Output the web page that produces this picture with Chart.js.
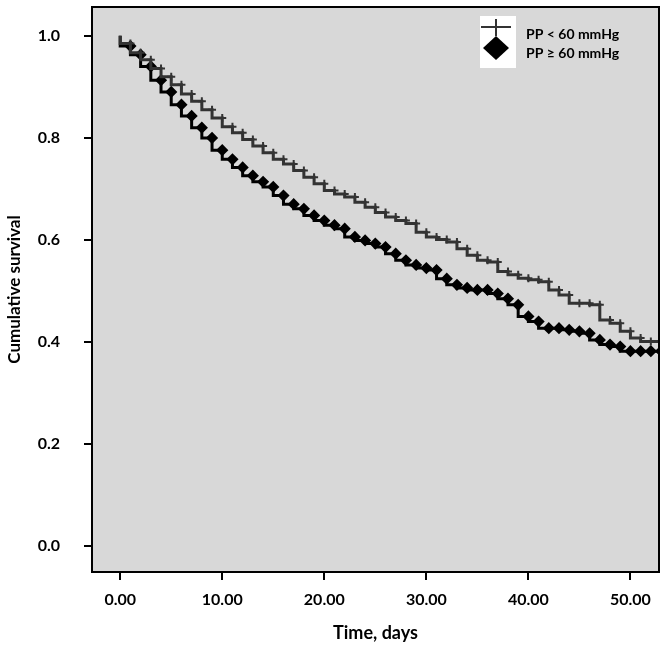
<!DOCTYPE html>
<html>
<head>
<meta charset="utf-8">
<script src="https://cdn.jsdelivr.net/npm/chart.js@4.4.1/dist/chart.umd.min.js"></script>
<style>
  body { margin: 0; background: #fff; }
  #wrap { width: 666px; height: 648px; }
</style>
</head>
<body>
<div id="wrap"><canvas id="kmChart" width="666" height="648"></canvas></div>
<script>
// Kaplan-Meier curves, values (one step per day)
const days = [0, 1, 2, 3, 4, 5, 6, 7, 8, 9, 10, 11, 12, 13, 14, 15, 16, 17, 18, 19, 20,
  21, 22, 23, 24, 25, 26, 27, 28, 29, 30, 31, 32, 33, 34, 35, 36, 37, 38, 39, 40,
  41, 42, 43, 44, 45, 46, 47, 48, 49, 50, 51, 52, 53];

const survUnder60 = [1.000, 0.985, 0.967, 0.953, 0.936, 0.920, 0.904, 0.886, 0.872, 0.855, 0.839,
  0.822, 0.810, 0.797, 0.784, 0.771, 0.758, 0.749, 0.736, 0.723, 0.710,
  0.697, 0.690, 0.684, 0.674, 0.664, 0.654, 0.645, 0.638, 0.632, 0.615,
  0.606, 0.601, 0.596, 0.583, 0.570, 0.560, 0.557, 0.538, 0.532, 0.525,
  0.522, 0.518, 0.502, 0.492, 0.476, 0.476, 0.473, 0.443, 0.437, 0.421,
  0.408, 0.401, 0.401];

const survOver60 = [1.000, 0.980, 0.963, 0.940, 0.913, 0.890, 0.865, 0.843, 0.820, 0.800, 0.776,
  0.758, 0.742, 0.726, 0.714, 0.704, 0.687, 0.670, 0.661, 0.648, 0.638,
  0.629, 0.622, 0.606, 0.599, 0.593, 0.586, 0.573, 0.560, 0.551, 0.545,
  0.541, 0.524, 0.512, 0.506, 0.502, 0.502, 0.495, 0.485, 0.473, 0.450,
  0.440, 0.427, 0.427, 0.424, 0.421, 0.417, 0.404, 0.395, 0.391, 0.382,
  0.382, 0.382, 0.382];

const seriesLabels = ['PP < 60 mmHg', 'PP \u2265 60 mmHg'];
const xTicks = [0, 10, 20, 30, 40, 50];
const yTicks = [0.0, 0.2, 0.4, 0.6, 0.8, 1.0];

const FONT = 'Lato, "Open Sans", sans-serif';

// gray plot background + box border round the chart area
const plotFrame = {
  id: 'plotFrame',
  beforeDatasetsDraw(chart) {
    const a = chart.chartArea, ctx = chart.ctx;
    ctx.save();
    ctx.fillStyle = '#d8d8d8';
    ctx.fillRect(a.left, a.top, a.right - a.left, a.bottom - a.top);
    ctx.restore();
  },
  afterDatasetsDraw(chart) {
    const a = chart.chartArea, ctx = chart.ctx;
    ctx.save();
    ctx.strokeStyle = '#000';
    ctx.lineWidth = 2;
    ctx.strokeRect(a.left, a.top, a.right - a.left, a.bottom - a.top);
    ctx.restore();
  }
};

// small legend box in the upper right corner of the plot
const cornerLegend = {
  id: 'cornerLegend',
  afterDraw(chart) {
    const a = chart.chartArea, ctx = chart.ctx;
    const ds = chart.data.datasets;
    const bx = a.right - 179, by = a.top + 9;
    ctx.save();
    ctx.fillStyle = '#fff';
    ctx.fillRect(bx, by, 36, 52);
    const cx = bx + 16;
    // cross
    ctx.strokeStyle = ds[0].borderColor;
    ctx.lineWidth = 2;
    ctx.beginPath();
    ctx.moveTo(bx + 1, by + 11); ctx.lineTo(bx + 31, by + 11);
    ctx.moveTo(cx, by + 3); ctx.lineTo(cx, by + 20);
    ctx.stroke();
    // diamond
    ctx.fillStyle = ds[1].borderColor;
    ctx.beginPath();
    ctx.moveTo(cx, by + 20);
    ctx.lineTo(cx + 13, by + 32);
    ctx.lineTo(cx, by + 44);
    ctx.lineTo(cx - 13, by + 32);
    ctx.closePath();
    ctx.fill();
    // labels
    ctx.fillStyle = '#000';
    ctx.font = 'bold 14px ' + FONT;
    ctx.textBaseline = 'middle';
    ctx.textAlign = 'left';
    ctx.fillText(ds[0].label, bx + 46, by + 18);
    ctx.fillText(ds[1].label, bx + 46, by + 37);
    ctx.restore();
  }
};

const ctx = document.getElementById('kmChart').getContext('2d');
const kmChart = new Chart(ctx, {
  type: 'line',
  data: {
    datasets: [{
      label: seriesLabels[0],
      data: days.map((d, i) => ({ x: d, y: survUnder60[i] })),
      stepped: 'after',
      borderColor: '#333333',
      borderWidth: 3,
      fill: false,
      pointStyle: 'cross',
      pointRadius: c => c.dataIndex === 0 ? 0 : 4,
      pointBorderWidth: 2,
      pointBorderColor: '#333333',
      clip: 0
    }, {
      label: seriesLabels[1],
      data: days.map((d, i) => ({ x: d, y: survOver60[i] })),
      stepped: 'after',
      borderColor: '#000000',
      borderWidth: 3,
      fill: false,
      pointStyle: 'rectRot',
      pointRadius: c => c.dataIndex === 0 ? 0 : 4,
      pointBackgroundColor: '#000000',
      pointBorderColor: '#000000',
      clip: 0
    }]
  },
  options: {
    responsive: false,
    animation: false,
    layout: {
      padding: { top: 4, right: 2, left: 0, bottom: 0 }
    },
    plugins: {
      legend: { display: false },
      tooltip: { enabled: false }
    },
    scales: {
      x: {
        type: 'linear',
        min: -2.764,
        max: 52.8,
        afterBuildTicks: s => { s.ticks = xTicks.map(v => ({ value: v })); },
        afterFit: s => { s.height = 76; s.paddingLeft = 0; s.paddingRight = 0; },
        ticks: {
          callback: v => v.toFixed(2),
          font: { family: FONT, size: 16, weight: 'bold' },
          color: '#000',
          padding: 10,
          maxRotation: 0,
          autoSkip: false
        },
        grid: {
          drawOnChartArea: false,
          tickLength: 8,
          lineWidth: 2,
          color: '#000'
        },
        border: { display: false },
        title: {
          display: true,
          text: 'Time, days',
          font: { family: FONT, size: 18, weight: 'bold' },
          color: '#000',
          padding: { top: 4, bottom: 4 }
        }
      },
      y: {
        min: -0.0507,
        max: 1.0565,
        afterBuildTicks: s => { s.ticks = yTicks.map(v => ({ value: v })); },
        afterFit: s => { s.width = 92; s.paddingTop = 0; s.paddingBottom = 0; },
        ticks: {
          callback: v => v.toFixed(1),
          font: { family: FONT, size: 16, weight: 'bold' },
          color: '#000',
          padding: 24
        },
        grid: {
          drawOnChartArea: false,
          tickLength: 8,
          lineWidth: 2,
          color: '#000'
        },
        border: { display: false },
        title: {
          display: true,
          text: 'Cumulative survival',
          font: { family: FONT, size: 17, weight: 'bold' },
          color: '#000',
          padding: { top: 4, bottom: 4 }
        }
      }
    }
  },
  plugins: [plotFrame, cornerLegend]
});
</script>
</body>
</html>
